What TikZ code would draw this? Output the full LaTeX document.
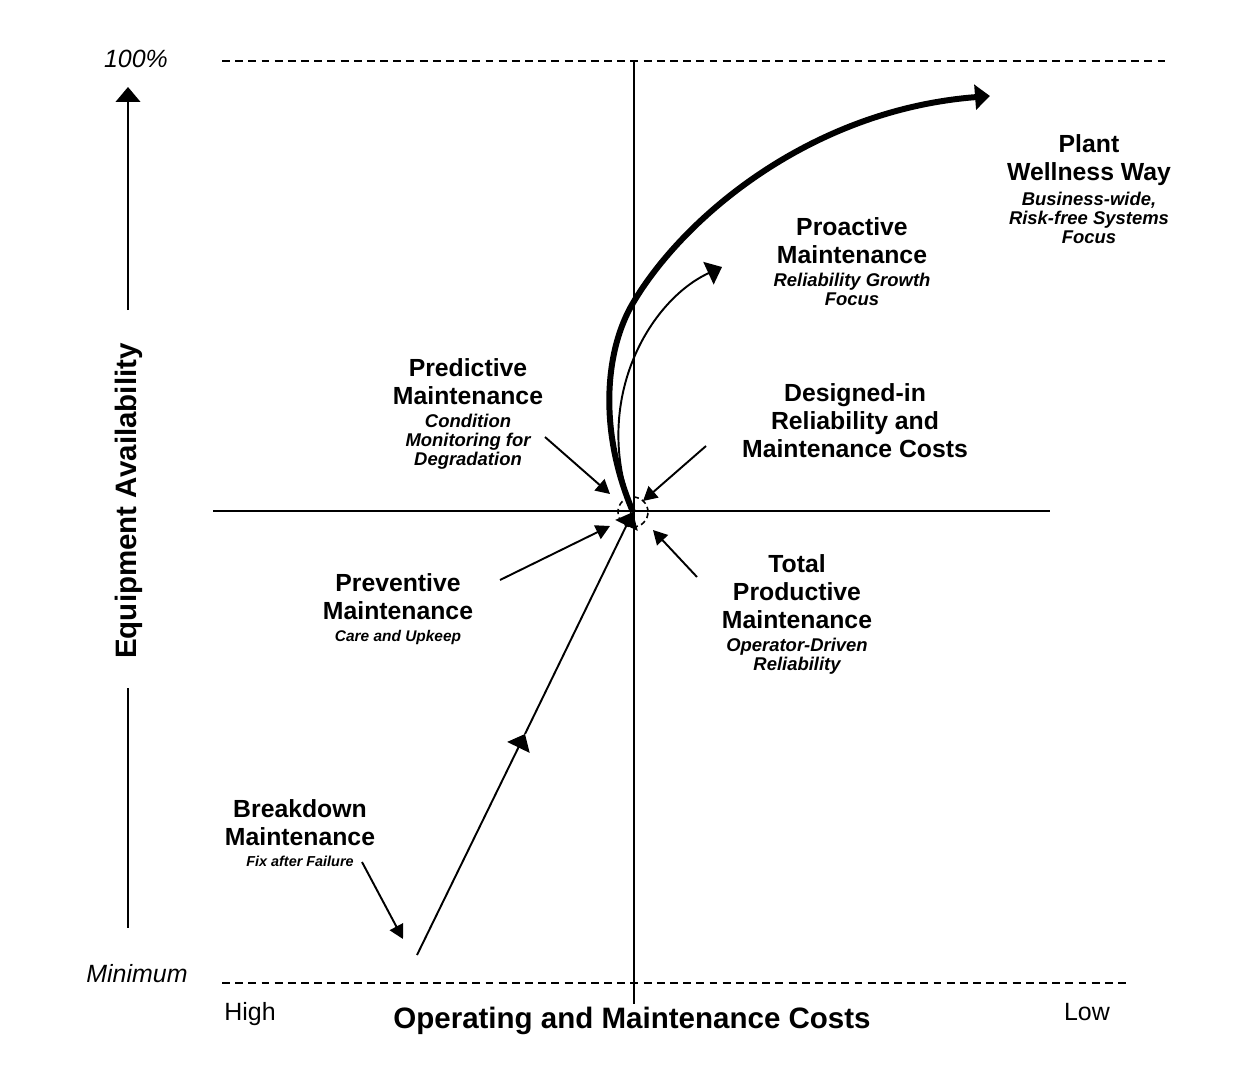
\documentclass[tikz,border=0pt]{standalone}
\usepackage{fontspec}
\setmainfont{Liberation Sans}
\usetikzlibrary{arrows.meta,positioning}

\tikzset{
  heading/.style={align=center, inner sep=0pt, anchor=north,
    font=\fontsize{14.1}{16}\selectfont\bfseries},
  note/.style={align=center, inner sep=0pt,
    font=\fontsize{10.5}{10.8}\selectfont\bfseries\itshape},
  smallnote/.style={note, font=\fontsize{8.8}{10}\selectfont\bfseries\itshape},
  axistitle/.style={inner sep=0pt, font=\fontsize{16.8}{18}\selectfont\bfseries},
  scalelabel/.style={inner sep=0pt, anchor=base, font=\fontsize{14.2}{16}\selectfont},
  axisline/.style={line width=1.1pt},
  guide/.style={line width=1.1pt, dash pattern=on 4.5pt off 3pt},
  pointer/.style={line width=1.1pt, -{Triangle[length=8pt,width=8.5pt]}},
  bigtip/.style={-{Triangle[length=8.5pt,width=14pt]}}
}

\begin{document}
\begin{tikzpicture}[x=0.02cm, y=-0.02cm]
      \useasboundingbox (0,0) rectangle (1242,1072);
      % Define coordinates
      \coordinate (topl) at (222,61);
      \coordinate (topr) at (1165,61);
      \coordinate (botl) at (222,983);
      \coordinate (botr) at (1130,983);
      \coordinate (vtop) at (634,61);
      \coordinate (vbot) at (634,1004);
      \coordinate (hl) at (213,511);
      \coordinate (hr) at (1050,511);
      \coordinate (c) at (633,512);
      % Axes
      \draw[guide] (topl) -- (topr);
      \draw[guide] (botl) -- (botr);
      \draw[axisline] (vtop) -- (vbot);
      \draw[axisline] (hl) -- (hr);
      % Define nodes
      \node[scalelabel, font=\fontsize{14.2}{16}\selectfont\itshape] (full) at (136,67) {100\%};
      \node[scalelabel, font=\fontsize{14.2}{16}\selectfont\itshape] (min) at (137,982) {Minimum};
      \node[scalelabel] (high) at (250,1020) {High};
      \node[scalelabel] (low) at (1087,1020) {Low};
      \node[axistitle, anchor=base] (costs) at (632,1028) {Operating and Maintenance Costs};
      \node[axistitle, rotate=90] (avail) at (129,501) {Equipment Availability};
      \coordinate (upb) at (128,310);
      \coordinate (upt) at (128,87);
      \coordinate (lowt) at (128,688);
      \coordinate (lowb) at (128,928);
      \draw[axisline, bigtip] (upb) -- (upt);
      \draw[axisline] (lowt) -- (lowb);

      \node[heading] (pww) at (1089,134) {Plant\\Wellness Way};
      \node[note, below=3.5pt of pww] (pwwnote) {Business-wide,\\Risk-free Systems\\Focus};
      \node[heading] (proactive) at (852,217) {Proactive\\Maintenance};
      \node[note, below=5pt of proactive] (proactivenote) {Reliability Growth\\Focus};
      \node[heading] (predictive) at (468,358) {Predictive\\Maintenance};
      \node[note, below=5pt of predictive] (predictivenote) {Condition\\Monitoring for\\Degradation};
      \node[heading] (designed) at (855,383) {Designed-in\\Reliability and\\Maintenance Costs};
      \node[heading] (preventive) at (398,573) {Preventive\\Maintenance};
      \node[smallnote, below=5.5pt of preventive] (preventivenote) {Care and Upkeep};
      \node[heading] (tpm) at (797,554) {Total\\Productive\\Maintenance};
      \node[note, below=5pt of tpm] (tpmnote) {Operator-Driven\\Reliability};
      \node[heading] (breakdown) at (300,799) {Breakdown\\Maintenance};
      \node[smallnote, below=5.5pt of breakdown, font=\fontsize{8.2}{10}\selectfont\bfseries\itshape] (breakdownnote) {Fix after Failure};

      \node[draw, circle, line width=0.9pt, dash pattern=on 3pt off 2pt,
        minimum size=0.6cm, inner sep=0pt] (hub) at (c) {};

      % Connect nodes
      \coordinate (bdtail) at (362,862);
      \coordinate (bdtip) at (403,939);
      \coordinate (pdtail) at (545,437);
      \coordinate (pdtip) at (610,494);
      \coordinate (dstail) at (706,446);
      \coordinate (dstip) at (643,501);
      \coordinate (pvtail) at (500,580);
      \coordinate (pvtip) at (610,526);
      \coordinate (tptail) at (697,577);
      \coordinate (tptip) at (653,530);
      \draw[pointer] (bdtail) -- (bdtip);
      \draw[pointer] (pdtail) -- (pdtip);
      \draw[pointer] (dstail) -- (dstip);
      \draw[pointer] (pvtail) -- (pvtip);
      \draw[pointer] (tptail) -- (tptip);

      \coordinate (start) at (417,955);
      \coordinate (mid) at (525,734);
      \draw[axisline, bigtip] (start) -- (mid);
      \draw[axisline, bigtip] (mid) -- (c);

      \coordinate (bend) at (633,303);
      \coordinate (wellend) at (990,96);
      \coordinate (proend) at (722,267);
      \draw[line width=3.4pt, bigtip] (c) .. controls (598,430) and (605,350) .. (bend)
        .. controls (683,218) and (810,110) .. (wellend);
      \draw[axisline, bigtip] (c) .. controls (590,400) and (650,300) .. (proend);
    \end{tikzpicture}
\end{document}
